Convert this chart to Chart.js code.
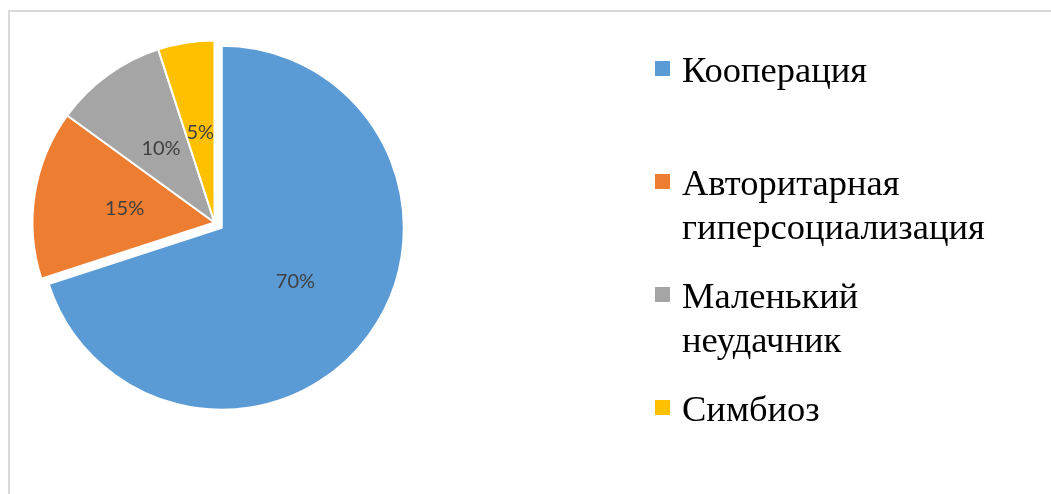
<!DOCTYPE html>
<html><head><meta charset="utf-8">
<script src="https://cdn.jsdelivr.net/npm/chart.js@4/dist/chart.umd.min.js"></script>
<style>
html,body{margin:0;padding:0;background:#fff;width:1051px;height:494px;overflow:hidden;}
#frame{position:absolute;left:8px;top:10px;width:1100px;height:600px;border:2px solid #d9d9d9;}
#wrap{position:absolute;left:0;top:0;width:1051px;height:494px;}
#legend{position:absolute;left:0;top:0;}
.item{position:absolute;left:655px;}
.box{position:absolute;left:0;top:0;width:15px;height:15px;}
.txt{position:absolute;left:27px;top:-13px;font-family:"Liberation Serif",serif;font-size:36.5px;line-height:44px;color:#000;white-space:nowrap;}
</style></head><body>
<div id="frame"></div>
<div id="wrap"><canvas id="c" width="1051" height="494"></canvas></div>
<div id="legend"></div>
<script>
const categories = [["Кооперация"], ["Авторитарная", "гиперсоциализация"], ["Маленький", "неудачник"], ["Симбиоз"]];
const values = [70, 15, 10, 5];
const valueLabels = ["70%", "15%", "10%", "5%"];
const colors = ["#5B9BD5", "#ED7D31", "#A5A5A5", "#FFC000"];
const explode = [9, 0, 0, 0];

// HTML legend built from the arrays
const legend = document.getElementById('legend');
categories.forEach((lines, i) => {
  const it = document.createElement('div');
  it.className = 'item';
  it.style.top = (61 + i * 113) + 'px';
  const b = document.createElement('div');
  b.className = 'box';
  b.style.background = colors[i];
  const t = document.createElement('div');
  t.className = 'txt';
  t.innerHTML = lines.join('<br>');
  it.appendChild(b); it.appendChild(t);
  legend.appendChild(it);
});

function midAngle(p) { return (p.startAngle + p.endAngle) / 2; }

// Explode slices by translating the arc along its bisector (radius unchanged)
const explodePlugin = {
  id: 'explodeSlices',
  beforeDatasetsDraw(chart) {
    const meta = chart.getDatasetMeta(0);
    meta.data.forEach((arc, i) => {
      if (!explode[i] || arc._exploded) return;
      const orig = arc.draw;
      arc.draw = function (ctx, area) {
        const p = this.getProps(['startAngle', 'endAngle'], true);
        const m = midAngle(p);
        ctx.save();
        ctx.translate(Math.cos(m) * explode[i], Math.sin(m) * explode[i]);
        orig.call(this, ctx, area);
        ctx.restore();
      };
      arc._exploded = true;
    });
  }
};

const labelPlugin = {
  id: 'sliceLabels',
  afterDatasetsDraw(chart) {
    const ctx = chart.ctx;
    const meta = chart.getDatasetMeta(0);
    ctx.save();
    ctx.font = '20px Lato';
    ctx.fillStyle = '#404040';
    ctx.textAlign = 'center';
    ctx.textBaseline = 'middle';
    meta.data.forEach((arc, i) => {
      const p = arc.getProps(['x', 'y', 'startAngle', 'endAngle', 'outerRadius'], true);
      const m = midAngle(p);
      const d = (explode[i] || 0) + p.outerRadius * 0.5;
      ctx.fillText(valueLabels[i], p.x + Math.cos(m) * d, p.y + Math.sin(m) * d);
    });
    ctx.restore();
  }
};

new Chart(document.getElementById('c'), {
  type: 'pie',
  data: {
    labels: categories.map(l => l.join(' ')),
    datasets: [{
      data: values,
      backgroundColor: colors,
      borderColor: '#ffffff',
      borderWidth: 2,
      radius: 182
    }]
  },
  options: {
    responsive: false,
    animation: false,
    events: [],
    layout: { padding: { left: 0, top: 0, right: 1051 - 429, bottom: 494 - 445 } },
    plugins: { legend: { display: false }, tooltip: { enabled: false } }
  },
  plugins: [explodePlugin, labelPlugin]
});
</script>
</body></html>
